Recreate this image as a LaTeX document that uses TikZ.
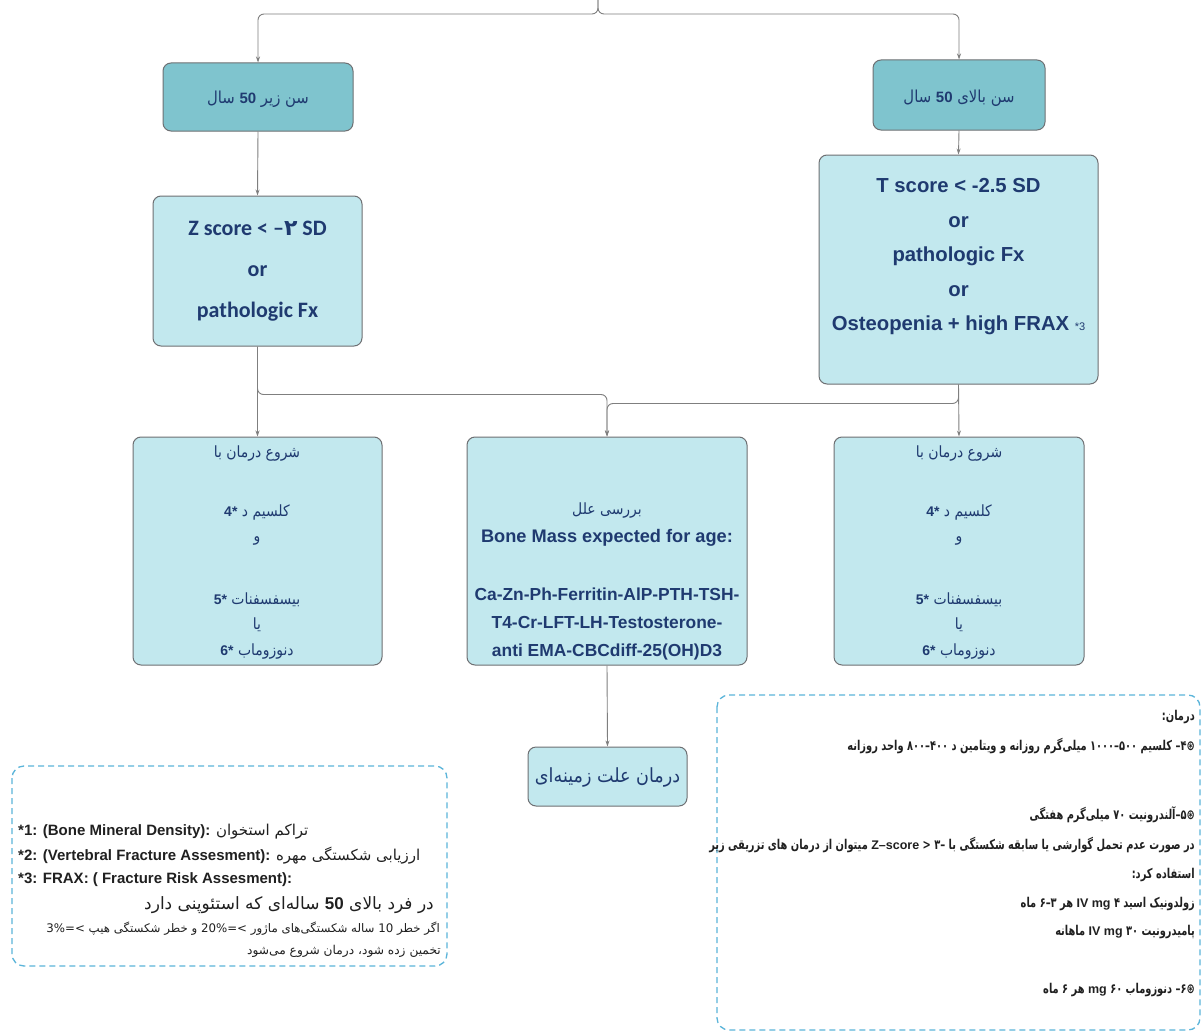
\documentclass[tikz,border=0pt]{standalone}
\usepackage{fontspec}
\setmainfont{Liberation Sans}
\newfontfamily\fa[Script=Arabic]{DejaVu Sans}
\newfontfamily\fan[Script=Arabic,FakeStretch=0.9]{DejaVu Sans}
\newfontfamily\fac[Script=Arabic,FakeStretch=0.73]{DejaVu Sans}
\newfontfamily\carl{Carlito}
\TeXXeTstate=1
\usetikzlibrary{arrows.meta}
\definecolor{navy}{HTML}{1F3A70}
\definecolor{tealA}{HTML}{7FC4CE}
\definecolor{lightA}{HTML}{C2E8EE}
\definecolor{edgeA}{HTML}{6E7073}
\definecolor{connA}{HTML}{7F7F7F}
\definecolor{dashA}{HTML}{5BB5DA}
\definecolor{inkA}{HTML}{202020}
\newcommand{\myR}[1]{\beginR#1\endR}
\newcommand{\myL}[1]{\beginL#1\endL{}}
\newcommand{\fs}[2]{\fontsize{#1}{#2}\selectfont}
\begin{document}
\begin{tikzpicture}[x=1pt,y=-1pt,
  box/.style={draw=edgeA, line width=1pt, rounded corners=8pt, fill=lightA, inner sep=0pt},
  topbox/.style={box, fill=tealA},
  conn/.style={draw=connA, line width=0.9pt, rounded corners=6pt, -{Stealth[length=6pt,width=4pt]}},
  dbox/.style={draw=dashA, line width=1.3pt, dash pattern=on 6pt off 4pt, rounded corners=12pt},
  txt/.style={text=navy, inner sep=0pt},
  btxt/.style={txt, font=\fan\fs{15.5}{18}},
  ink/.style={text=inkA, inner sep=0pt},
  rnote/.style={ink, anchor=east, font=\fac\bfseries\fs{13.5}{16}},
]
\path[use as bounding box, fill=white] (0,0) rectangle (1202,1033);

% boxes
\node[topbox, minimum width=190pt, minimum height=68pt] (ltop) at (258,97) {};
\node[topbox, minimum width=172pt, minimum height=70pt] (rtop) at (959,95) {};
\node[box, minimum width=209pt, minimum height=150pt] (zbox) at (257.5,271) {};
\node[box, minimum width=279pt, minimum height=229pt] (tbox) at (958.5,269.5) {};
\node[box, minimum width=249pt, minimum height=228pt] (lbot) at (257.5,551) {};
\node[box, minimum width=280pt, minimum height=228pt] (mbot) at (607,551) {};
\node[box, minimum width=250pt, minimum height=228pt] (rbot) at (959,551) {};
\node[box, minimum width=159pt, minimum height=59pt] (cause) at (607.5,776.5) {};
\draw[dbox] (12,766) rectangle (447,966);
\draw[dbox] (717,695) rectangle (1200,1030);

% connectors
\coordinate (top) at (598,0);
\draw[conn] (top) -- (598,14) -| (ltop.north);
\draw[conn] (top) -- (598,14) -| (rtop.north);
\draw[conn] (ltop.south) -- (zbox.north);
\draw[conn] (rtop.south) -- (tbox.north);
\draw[conn] (zbox.south) -- (lbot.north);
\draw[conn] (tbox.south) -- (rbot.north);
\draw[conn] (zbox.south) -- ++(0,48) -| (mbot.north);
\draw[conn] (tbox.south) -- ++(0,19) -| (mbot.north);
\draw[conn] (mbot.south) -- (cause.north);

% top boxes text
\node[txt] (ltopT) at (258,99) {\fan\fs{16.5}{18}\myR{سن زیر \myL{{\normalfont\bfseries\fs{15}{18}50}} سال}};
\node[txt] (rtopT) at (959,98) {\fan\fs{16.5}{18}\myR{سن بالای \myL{{\normalfont\bfseries\fs{15}{18}50}} سال}};

% Z box
\node[txt, align=center, font=\carl\bfseries\fs{22}{41}] (zT) at (257.5,271)
  {Z score < –{\fa ۲} SD\\or\\pathologic Fx};
% T box
\node[txt, align=center, font=\bfseries\fs{20.3}{34.5}] (tT) at (958.5,257)
  {T score < -2.5 SD\\or\\pathologic Fx\\or\\Osteopenia + high FRAX {\mdseries\fontsize{11}{34.5}\selectfont *3}};

% left bottom box text
\node[btxt] (l1) at (257,453) {\myR{شروع درمان با}};
\node[btxt] (l2) at (257,512) {\myR{کلسیم د \myL{{\normalfont\bfseries\fs{14}{16}4*}}}};
\node[btxt] (l3) at (257,541) {\myR{و}};
\node[btxt] (l4) at (257,600) {\myR{بیسفسفنات \myL{{\normalfont\bfseries\fs{14}{16}5*}}}};
\node[btxt] (l5) at (257,625) {\myR{یا}};
\node[btxt] (l6) at (257,651) {\myR{دنوزوماب \myL{{\normalfont\bfseries\fs{14}{16}6*}}}};
% right bottom box text
\node[btxt] (r1) at (959,453) {\myR{شروع درمان با}};
\node[btxt] (r2) at (959,512) {\myR{کلسیم د \myL{{\normalfont\bfseries\fs{14}{16}4*}}}};
\node[btxt] (r3) at (959,541) {\myR{و}};
\node[btxt] (r4) at (959,600) {\myR{بیسفسفنات \myL{{\normalfont\bfseries\fs{14}{16}5*}}}};
\node[btxt] (r5) at (959,625) {\myR{یا}};
\node[btxt] (r6) at (959,651) {\myR{دنوزوماب \myL{{\normalfont\bfseries\fs{14}{16}6*}}}};
% middle box text
\node[btxt] (m1) at (607,510) {\myR{بررسی علل}};
\node[txt, font=\bfseries\fs{18.2}{28.5}, align=center] (m2) at (607,538) {Bone Mass expected for age:};
\node[txt, font=\bfseries\fs{17.4}{28}, align=center] (m3) at (607,624)
  {Ca-Zn-Ph-Ferritin-AlP-PTH-TSH-\\T4-Cr-LFT-LH-Testosterone-\\anti EMA-CBCdiff-25(OH)D3};
% cause
\node[txt] (causeT) at (607.5,777) {\fan\fs{19.5}{22}\myR{درمان علت زمینه^^^^200cای}};

% left dashed box
\node[ink, anchor=west] (n1) at (18,832) {\bfseries\fs{15}{18}*1: (Bone Mineral Density): {\fa\mdseries\myR{تراکم استخوان}}};
\node[ink, anchor=west] (n2) at (18,856) {\bfseries\fs{15}{18}*2: (Vertebral Fracture Assesment): {\fa\mdseries\myR{ارزیابی شکستگی مهره}}};
\node[ink, anchor=west] (n3) at (18,880) {\bfseries\fs{15}{18}*3: FRAX: ( Fracture Risk Assesment):};
\node[ink, anchor=east] (n4) at (434,905) {\fa\fs{17}{20}\myR{در فرد بالای \myL{{\normalfont\bfseries 50}} ساله^^^^200cای که استئوپنی دارد}};
\node[ink, anchor=east] (n5) at (440,929) {\fa\fs{11.8}{14}\myR{اگر خطر \myL{10} ساله شکستگی^^^^200cهای ماژور \myL{>=20\%} و خطر شکستگی هیپ \myL{>=3\%}}};
\node[ink, anchor=east] (n6) at (441,951) {\fa\fs{12.2}{14}\myR{تخمین زده شود، درمان شروع می^^^^200cشود}};

% right dashed box
\node[rnote] (p1) at (1195,717) {\myR{درمان:}};
\node[rnote] (p2) at (1195,746) {\myR{\hbox{⊛}\hbox{۴}\hbox{–} کلسیم \myL{۵۰۰–۱۰۰۰} میلی^^^^200cگرم روزانه و ویتامین د \myL{۴۰۰–۸۰۰} واحد روزانه}};
\node[rnote] (p3) at (1195,815) {\myR{\hbox{⊛}\hbox{۵}\hbox{–}آلندرونیت ۷۰ میلی^^^^200cگرم هفتگی}};
\node[rnote] (p4) at (1195,845) {\myR{در صورت عدم تحمل گوارشی یا سابقه شکستگی با \myL{{\normalfont\bfseries\fs{12.5}{16}Z–score} < –۳} میتوان از درمان های تزریقی زیر}};
\node[rnote] (p5) at (1195,875) {\myR{استفاده کرد:}};
\node[rnote] (p6) at (1195,904) {\myR{زولدونیک اسید ۴ \myL{{\normalfont\bfseries\fs{12.5}{16}IV mg}} هر \myL{۳–۶} ماه}};
\node[rnote] (p7) at (1195,932) {\myR{پامیدرونیت ۳۰ \myL{{\normalfont\bfseries\fs{12.5}{16}IV mg}} ماهانه}};
\node[rnote] (p8) at (1195,990) {\myR{\hbox{⊛}\hbox{۶}\hbox{–} دنوزوماب ۶۰ \myL{{\normalfont\bfseries\fs{12.5}{16}mg}} هر ۶ ماه}};
\end{tikzpicture}
\end{document}
